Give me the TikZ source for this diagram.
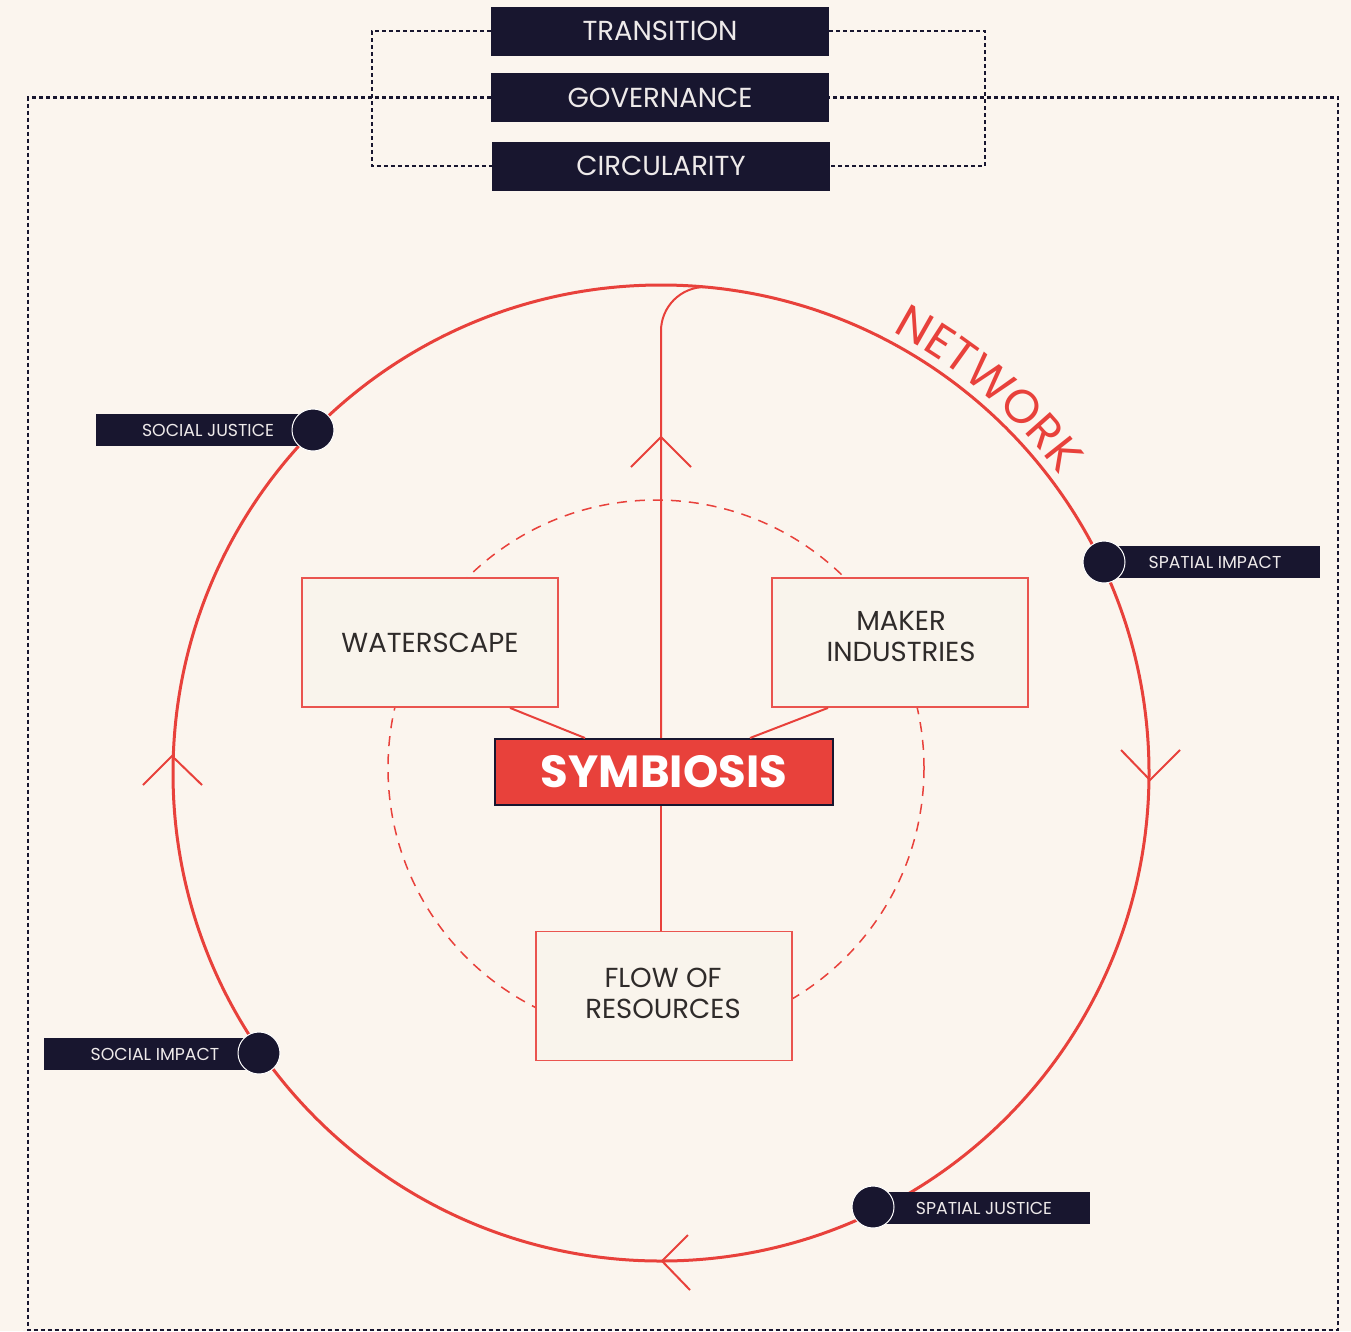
\documentclass[tikz,border=0pt]{standalone}
\usepackage{fontspec}
\setmainfont{Poppins}
\usetikzlibrary{calc,decorations.text,backgrounds}

\definecolor{paper}{HTML}{FBF5EE}
\definecolor{navy}{HTML}{18162F}
\definecolor{brick}{HTML}{E8413B}
\definecolor{ink}{HTML}{2F2B2A}
\definecolor{cardfill}{HTML}{F9F4EC}
\definecolor{pale}{HTML}{EEEAEA}

\begin{document}
\begin{tikzpicture}[x=1pt,y=-1pt,
  dotline/.style={draw=navy, line width=2.2pt, dash pattern=on 4pt off 3pt},
  topbox/.style={fill=navy, text=pale, minimum width=338, minimum height=49,
    inner sep=0pt, font=\fontsize{27.5}{27.5}\selectfont},
  card/.style={draw=brick!90!white, line width=1.8pt, fill=cardfill, text=ink,
    minimum width=256, minimum height=129, inner sep=0pt, align=center,
    font=\fontsize{27.5}{31}\selectfont},
  core/.style={draw=navy, line width=2pt, fill=brick, text=white,
    minimum width=338, minimum height=66, inner sep=0pt,
    font=\fontsize{45}{45}\selectfont\bfseries},
  pill/.style={fill=navy, text=pale, minimum height=32, inner sep=0pt,
    font=\fontsize{17.3}{17.3}\selectfont},
  knob/.style={circle, fill=navy, draw=white, line width=1pt,
    minimum size=42, inner sep=0pt},
  ring/.style={draw=brick, line width=3pt},
  redline/.style={draw=brick, line width=2pt},
  chev/.style={draw=brick, line width=2pt, line join=miter},
  dashring/.style={draw=brick, line width=1.5pt, dash pattern=on 10pt off 8pt}]

\useasboundingbox (0,0) rectangle (1351,1331);

% key coordinates
\coordinate (c) at (661,773);
\coordinate (axis) at (661,437);
\coordinate (joint) at (706,287);

% header boxes
\node[topbox] (tr)  at (660,31)    {TRANSITION};
\node[topbox] (gov) at (660,97.5)  {GOVERNANCE};
\node[topbox] (ci)  at (661,166)   {CIRCULARITY};

% inner dashed ring
\path[dashring] (656,768) circle[radius=268];

% main ring
\path[ring] (c) circle[radius=488];

% NETWORK along the ring
\path[decorate, decoration={text along path, text align=center,
  text={|\fontsize{47}{47}\selectfont\color{brick}|NETWORK}}]
  ($(c)+(-64.5:498)$) arc[start angle=-64.5, end angle=-34.5, radius=498];

% central nodes
\node[core] (sym) at (664,772) {SYMBIOSIS};
\node[card] (ws) at (430,642.5) {WATERSCAPE};
\node[card] (mk) at (900,642.5) {};
\node[ink, align=center, font=\fontsize{27.5}{31}\selectfont] (mkt) at (901,636) {MAKER\\ INDUSTRIES};
\node[card] (fl) at (664,996) {};
\node[ink, align=center, font=\fontsize{27.5}{31}\selectfont] (flt) at (663,993) {FLOW OF\\ RESOURCES};

% connectors
\draw[redline, rounded corners=44] (sym.north -| axis) |- (joint);
\draw[redline] (sym.south -| axis) -- (fl.north -| axis);
\draw[redline] ($(ws.south)+(80,0)$) -- ($(sym.north)+(-79,0)$);
\draw[redline] ($(mk.south)+(-72,0)$) -- ($(sym.north)+(86,0)$);

% direction chevrons
\draw[chev] ($(axis)+(-30,30)$) -- (axis) -- ($(axis)+(30,30)$);
\coordinate (lt) at (172,756);
\draw[chev] ($(lt)+(-29,29)$) -- (lt) -- ($(lt)+(30,29)$);
\coordinate (rt) at (1150,780);
\draw[chev] ($(rt)+(-29,-30)$) -- (rt) -- ($(rt)+(30,-30)$);
\coordinate (bt) at (662,1261);
\draw[chev] ($(bt)+(26,-26)$) -- (bt) -- ($(bt)+(28,29)$);

% impact labels
\node[pill, minimum width=224] (sjl) at (208,430)  {SOCIAL JUSTICE};
\node[knob] (sjk) at (313,430) {};
\node[pill, minimum width=210] (sil) at (1215,562) {SPATIAL IMPACT};
\node[knob] (sik) at (1104,562) {};
\node[pill, minimum width=222] (sol) at (155,1054) {SOCIAL IMPACT};
\node[knob] (sok) at (259,1053) {};
\node[pill, minimum width=212] (spl) at (984,1208) {SPATIAL JUSTICE};
\node[knob] (spk) at (873,1207) {};

% page and dotted frames, behind everything
\begin{scope}[on background layer]
  \fill[paper] (0,0) rectangle (1351,1331);
  \path[dotline] (tr.west) -- ++(-119,0) |- (ci.west);
  \path[dotline] (tr.east) -- ++(156,0) |- (ci.east);
  \path[dotline] (gov.west) -| (28,1330) -- (1338,1330) |- (gov.east);
\end{scope}
\end{tikzpicture}
\end{document}
